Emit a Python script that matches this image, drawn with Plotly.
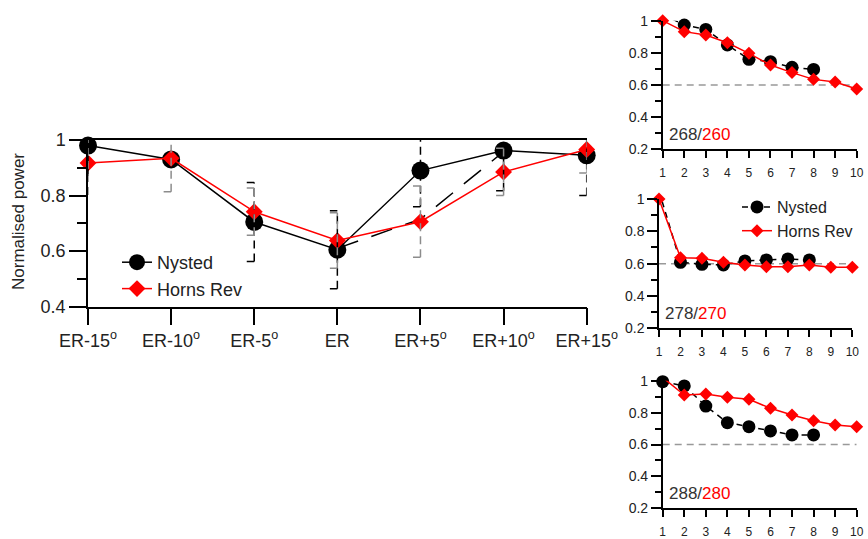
import plotly.graph_objects as go

# ---------------- data ----------------
categories = ["ER-15<sup>o</sup>", "ER-10<sup>o</sup>", "ER-5<sup>o</sup>", "ER",
              "ER+5<sup>o</sup>", "ER+10<sup>o</sup>", "ER+15<sup>o</sup>"]
cat_pos = list(range(len(categories)))

nysted_main = [0.98, 0.93, 0.705, 0.605, 0.89, 0.962, 0.945]
horns_main = [0.917, 0.934, 0.742, 0.638, 0.706, 0.885, 0.966]
nysted_err = [0.11, None, 0.142, 0.14, 0.13, 0.145, 0.145]
horns_err = [0.115, 0.12, 0.085, 0.10, 0.128, 0.085, 0.085]
dashed_main = [None, None, None, 0.61, 0.715, 0.958, None]

turbine_rows = [1, 2, 3, 4, 5, 6, 7, 8, 9, 10]
nysted_268 = [1.04, 0.973, 0.946, 0.849, 0.76, 0.745, 0.71, 0.697]
horns_260 = [1.0, 0.932, 0.911, 0.863, 0.797, 0.724, 0.677, 0.635, 0.619, 0.575]
nysted_278 = [1.05, 0.608, 0.596, 0.592, 0.617, 0.623, 0.629, 0.623]
horns_270 = [1.0, 0.637, 0.633, 0.608, 0.592, 0.581, 0.581, 0.592, 0.577, 0.577]
nysted_288 = [0.994, 0.967, 0.841, 0.737, 0.712, 0.685, 0.66, 0.66]
horns_280 = [1.02, 0.91, 0.916, 0.896, 0.883, 0.827, 0.785, 0.749, 0.722, 0.712]
small_labels = [("268", "260"), ("278", "270"), ("288", "280")]
ref_level = 0.6

FONT = "Liberation Sans, Arial, sans-serif"
RED = "#ff0000"
GRAY = "#8c8c8c"
TXT = "#222222"

fig = go.Figure()

# ---------------- main chart ----------------
fig.add_trace(go.Scatter(x=cat_pos, y=dashed_main, mode="lines", showlegend=False,
                         line=dict(color="black", width=1.5, dash="22px,14px"),
                         connectgaps=False, cliponaxis=False, xaxis="x", yaxis="y"))
fig.add_trace(go.Scatter(x=cat_pos, y=nysted_main, mode="lines+markers", name="Nysted",
                         line=dict(color="black", width=1.5),
                         marker=dict(symbol="circle", size=18, color="black"),
                         cliponaxis=False, xaxis="x", yaxis="y", legend="legend"))
fig.add_trace(go.Scatter(x=cat_pos, y=horns_main, mode="lines+markers", name="Horns Rev",
                         line=dict(color=RED, width=1.5),
                         marker=dict(symbol="diamond", size=13, color=RED),
                         cliponaxis=False, xaxis="x", yaxis="y", legend="legend"))


def err_traces(means, errs, color, dash):
    cap = 0.09
    vx, vy, cx, cy = [], [], [], []
    for i, (m, e) in enumerate(zip(means, errs)):
        if e is None:
            continue
        vx += [i, i, None]
        vy += [m - e, m + e, None]
        cx += [i - cap, i, None, i - cap, i, None]
        cy += [m + e, m + e, None, m - e, m - e, None]
    return [
        go.Scatter(x=vx, y=vy, mode="lines", showlegend=False, cliponaxis=False,
                   line=dict(color=color, width=1.5, dash=dash), xaxis="x", yaxis="y"),
        go.Scatter(x=cx, y=cy, mode="lines", showlegend=False, cliponaxis=False,
                   line=dict(color=color, width=1.5), xaxis="x", yaxis="y"),
    ]


for t in err_traces(nysted_main, nysted_err, "black", "8px,5px"):
    fig.add_trace(t)
for t in err_traces(horns_main, horns_err, GRAY, "8px,5px"):
    fig.add_trace(t)

# ---------------- small charts ----------------
small_sets = [(nysted_268, horns_260), (nysted_278, horns_270), (nysted_288, horns_280)]
for k, (ny, hr) in enumerate(small_sets):
    xa = "x%d" % (k + 2)
    ya = "y%d" % (k + 2)
    show = (k == 1)
    fig.add_trace(go.Scatter(x=turbine_rows, y=[ref_level] * len(turbine_rows), mode="lines",
                             showlegend=False, hoverinfo="skip",
                             line=dict(color="#999999", width=1.5, dash="7px,5px"),
                             xaxis=xa, yaxis=ya))
    fig.add_trace(go.Scatter(x=turbine_rows[:len(ny)], y=ny, mode="lines+markers", name="Nysted",
                             line=dict(color="black", width=1.5, dash="6px,5px"),
                             marker=dict(symbol="circle", size=13, color="black"),
                             cliponaxis=False, showlegend=show, legend="legend2",
                             xaxis=xa, yaxis=ya))
    fig.add_trace(go.Scatter(x=turbine_rows[:len(hr)], y=hr, mode="lines+markers", name="Horns Rev",
                             line=dict(color=RED, width=1.5),
                             marker=dict(symbol="diamond", size=10, color=RED),
                             cliponaxis=False, showlegend=show, legend="legend2",
                             xaxis=xa, yaxis=ya))

axis_common = dict(showline=True, linecolor="black", linewidth=1.5, showgrid=False,
                   zeroline=False, ticks="outside", tickcolor="black", tickwidth=1.5,
                   automargin=False)

layout = dict(
    width=868, height=539, margin=dict(l=0, r=0, t=0, b=0),
    paper_bgcolor="white", plot_bgcolor="white",
    font=dict(family=FONT, color=TXT),
    xaxis=dict(axis_common, domain=[88 / 868, 586.7 / 868], range=[0, 6], anchor="y",
               tickvals=cat_pos, ticktext=categories, ticklen=17, mirror=True,
               tickfont=dict(size=18, family=FONT, color=TXT)),
    yaxis=dict(axis_common, domain=[1 - 306.7 / 539, 1 - 140 / 539], range=[0.4, 1], anchor="x",
               tickvals=[0.4, 0.6, 0.8, 1.0], ticktext=["0.4", "0.6", "0.8", "1"], ticklen=17,
               minor=dict(tickvals=[0.5, 0.7, 0.9], ticklen=9, ticks="outside",
                          tickcolor="black", tickwidth=1.5),
               tickfont=dict(size=18, family=FONT, color=TXT)),
    legend=dict(x=117 / 868, y=1 - 244 / 539, xanchor="left", yanchor="top",
                bgcolor="rgba(0,0,0,0)", font=dict(size=18, family=FONT, color=TXT),
                tracegroupgap=0, itemwidth=30),
    legend2=dict(x=737 / 868, y=1 - 190 / 539, xanchor="left", yanchor="top",
                 bgcolor="rgba(0,0,0,0)", font=dict(size=16, family=FONT, color=TXT),
                 tracegroupgap=0),
    showlegend=True,
)

small_x_domains = [[662.7 / 868, 856.7 / 868], [659 / 868, 852.3 / 868], [662.7 / 868, 856.7 / 868]]
small_y_domains = [[1 - 149.3 / 539, 1 - 20.7 / 539], [1 - 328.3 / 539, 1 - 199 / 539],
                   [1 - 508.3 / 539, 1 - 380.7 / 539]]
annotations = [dict(xref="paper", yref="paper", x=18 / 868, y=1 - 222 / 539,
                    xanchor="center", yanchor="middle", textangle=-90, showarrow=False,
                    text="Normalised power", font=dict(size=17, family=FONT, color=TXT))]
for k in range(3):
    n = k + 2
    layout["xaxis%d" % n] = dict(axis_common, domain=small_x_domains[k], range=[1, 10],
                                 anchor="y%d" % n, tickvals=turbine_rows, ticklen=7,
                                 ticklabelstandoff=5,
                                 tickfont=dict(size=12, family=FONT, color=TXT))
    layout["yaxis%d" % n] = dict(axis_common, domain=small_y_domains[k], range=[0.2, 1],
                                 anchor="x%d" % n, tickvals=[0.2, 0.4, 0.6, 0.8, 1.0],
                                 ticktext=["0.2", "0.4", "0.6", "0.8", "1"], ticklen=10,
                                 minor=dict(tickvals=[0.3, 0.5, 0.7, 0.9], ticklen=6,
                                            ticks="outside", tickcolor="black", tickwidth=1.5),
                                 tickfont=dict(size=14, family=FONT, color=TXT))
    a, b = small_labels[k]
    annotations.append(dict(
        xref="x%d domain" % n, yref="y%d" % n, x=0.02, y=0.29, xanchor="left", yanchor="middle",
        showarrow=False, font=dict(size=17, family=FONT, color="#333333"),
        text="%s/<span style='color:%s'>%s</span>" % (a, RED, b)))
layout["annotations"] = annotations

fig.update_layout(**layout)
fig.write_html("out.html", config={"displayModeBar": False},
               post_script="document.body.style.margin='0';document.body.style.overflow='hidden';")
